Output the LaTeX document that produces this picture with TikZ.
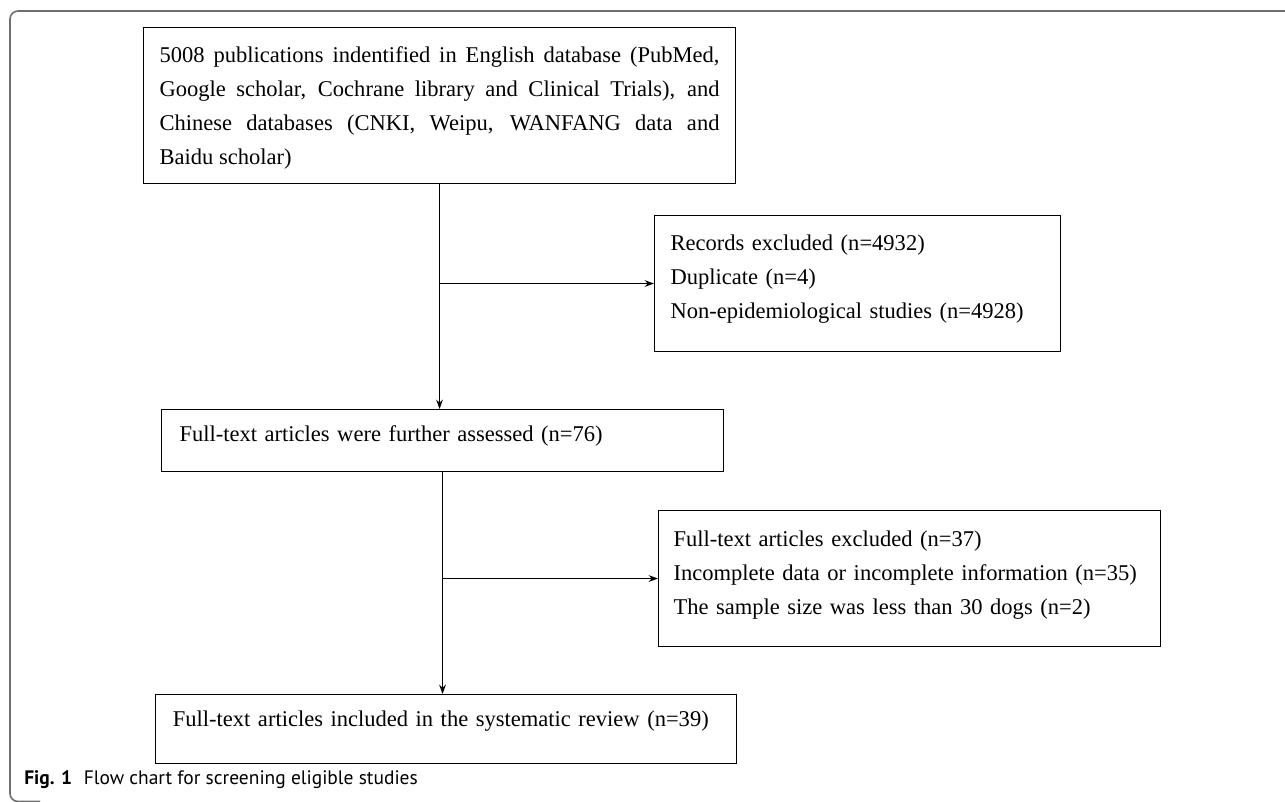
\documentclass[tikz,border=0pt]{standalone}
\usepackage{fontspec}
\setmainfont{Liberation Serif}
\newfontfamily\capfont{PT Sans}
\usetikzlibrary{arrows.meta}
\definecolor{framegray}{RGB}{110,110,110}
\tikzset{
    flowbox/.style={draw=black, line width=0.8pt, anchor=north west, inner ysep=0pt, align=left,
        font=\fontsize{16.9}{25.5}\selectfont},
    flowarrow/.style={line width=1pt, -{Stealth[length=7pt, width=5pt]}},
    captext/.style={anchor=base west, inner sep=0pt, font=\capfont\fontsize{14.6}{17}\selectfont}
}

\begin{document}
\begin{tikzpicture}[x=0.75pt, y=-0.75pt]
    \useasboundingbox (0,0) rectangle (1285,801);
    % outer frame
    \draw[framegray, line width=1.2pt, rounded corners=6pt] (1290,11) -- (10,11) -- (10,801.5) -- (40,801.5);
    % boxes
    \node[flowbox, align=justify, text width=420pt, inner xsep=12pt, text height=26.25pt, text depth=90.75pt] (found) at (143,27)
        {5008 publications indentified in English database (PubMed,\linebreak
         Google scholar, Cochrane library and Clinical Trials), and\linebreak
         Chinese databases (CNKI, Weipu, WANFANG data and\linebreak
         Baidu scholar)};
    \node[flowbox, text width=280.5pt, inner xsep=12pt, text height=26.25pt, text depth=75.75pt] (recexcl) at (654,215)
        {Records excluded (n=4932)\\ Duplicate (n=4)\\ Non-epidemiological studies (n=4928)};
    \node[flowbox, text width=394.5pt, inner xsep=13.5pt, text height=24pt, text depth=22.5pt] (assessed) at (161,409)
        {Full-text articles were further assessed (n=76)};
    \node[flowbox, text width=354pt, inner xsep=11.25pt, text height=27pt, text depth=75pt] (ftexcl) at (658,510)
        {Full-text articles excluded (n=37)\\ Incomplete data or incomplete information (n=35)\\ The sample size was less than 30 dogs (n=2)};
    \node[flowbox, text width=410pt, inner xsep=13pt, text height=24pt, text depth=27.75pt] (included) at (155,694)
        {Full-text articles included in the systematic review (n=39)};
    % connectors
    \draw[flowarrow] (found.south) -- (found.south |- assessed.north);
    \draw[flowarrow] (found.south |- recexcl.west) -- (recexcl.west);
    \draw[flowarrow] (assessed.south) -- (assessed.south |- included.north);
    \draw[flowarrow] (assessed.south |- ftexcl.west) -- (ftexcl.west);
    % caption
    \node[captext] (caption) at (24,784) {\textbf{Fig. 1}\hspace{0.6em}Flow chart for screening eligible studies};
\end{tikzpicture}
\end{document}
